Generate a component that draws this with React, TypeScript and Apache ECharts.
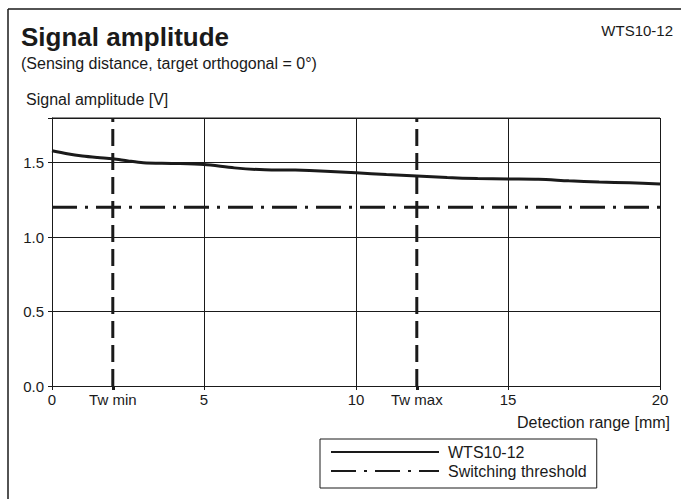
import React, { useEffect, useRef } from "react";
import * as echarts from "echarts";

const distance = [0, 0.5, 1, 1.5, 2, 2.5, 3, 4, 5, 6, 7, 8, 9, 10, 11, 12, 13, 14, 15, 16, 17, 18, 19, 20];
const amplitude = [1.58, 1.56, 1.545, 1.535, 1.527, 1.512, 1.5, 1.495, 1.487, 1.465, 1.452, 1.45, 1.443, 1.432, 1.42, 1.41, 1.4, 1.393, 1.39, 1.388, 1.378, 1.37, 1.365, 1.357];
const thresholdX = [0, 20];
const thresholdY = [1.2, 1.2];
const twMin = 2;
const twMax = 12;
const xTicks = [0, 5, 10, 15, 20];
const yTicks = [0, 0.5, 1.0, 1.5];
const yMax = 1.8;

const FONT = "Liberation Sans, Arial, sans-serif";
const INK = "#1a1a1a";

export default function App() {
  const ref = useRef<HTMLDivElement>(null);
  useEffect(() => {
    if (!ref.current) return;
    const chart = echarts.init(ref.current, undefined, { renderer: "svg" });
    chart.setOption({
      animation: false,
      backgroundColor: "#ffffff",
      textStyle: { fontFamily: FONT, color: INK },
      title: {
        text: "Signal amplitude",
        subtext: "(Sensing distance, target orthogonal = 0°)",
        left: 16,
        top: 19,
        itemGap: 5,
        textStyle: { fontFamily: FONT, fontSize: 26, fontWeight: "bold", color: INK },
        subtextStyle: { fontFamily: FONT, fontSize: 16, color: INK },
      },
      legend: {
        data: ["WTS10-12", "Switching threshold"],
        orient: "vertical",
        left: 320,
        top: 439,
        padding: [5, 10, 9, 10],
        itemGap: 3,
        itemWidth: 108,
        itemHeight: 14,
        borderColor: INK,
        borderWidth: 1,
        borderRadius: 0,
        selectedMode: false,
        itemStyle: { opacity: 0 },
        textStyle: { fontFamily: FONT, fontSize: 16, color: INK, padding: [0, 0, 0, 4] },
      },
      grid: { left: 52, right: 21, top: 118, bottom: 113, containLabel: false },
      xAxis: [
        {
          type: "value",
          min: 0,
          max: 20,
          interval: 5,
          axisLine: { show: true, lineStyle: { color: INK, width: 1 } },
          axisTick: { show: true, length: 4, inside: false, lineStyle: { color: INK } },
          axisLabel: {
            margin: 6,
            fontFamily: FONT,
            fontSize: 15,
            color: INK,
            customValues: xTicks,
            formatter: (v: number) => String(v),
          },
          splitLine: { show: true, lineStyle: { color: INK, width: 1 } },
        },
        {
          type: "value",
          min: 0,
          max: 20,
          position: "bottom",
          axisLine: { show: false },
          axisTick: { show: true, length: 4, customValues: [twMin, twMax], lineStyle: { color: INK, width: 3 } },
          axisLabel: {
            margin: 6,
            fontFamily: FONT,
            fontSize: 15,
            color: INK,
            customValues: [twMin, twMax],
            formatter: (v: number) => (v === twMin ? "Tw min" : v === twMax ? "Tw max" : ""),
          },
          splitLine: { show: false },
        },
      ],
      yAxis: {
        type: "value",
        min: 0,
        max: yMax,
        interval: 0.5,
        axisLine: { show: true, lineStyle: { color: INK, width: 1 } },
        axisTick: { show: true, length: 4, lineStyle: { color: INK } },
        axisLabel: {
          margin: 8,
          fontFamily: FONT,
          fontSize: 15,
          color: INK,
          customValues: yTicks,
          formatter: (v: number) => v.toFixed(1),
        },
        splitLine: { show: true, lineStyle: { color: INK, width: 1 } },
      },
      graphic: [
        { type: "line", shape: { x1: 8, y1: 9, x2: 681, y2: 9 }, style: { stroke: INK, lineWidth: 1.5 } },
        { type: "line", shape: { x1: 8, y1: 9, x2: 8, y2: 499 }, style: { stroke: INK, lineWidth: 1.5 } },
        { type: "line", shape: { x1: 52, y1: 118, x2: 660, y2: 118 }, style: { stroke: INK, lineWidth: 1 } },
        {
          type: "text",
          right: 8,
          top: 23,
          style: { text: "WTS10-12", fontFamily: FONT, fontSize: 15, fill: INK },
        },
        {
          type: "text",
          left: 26,
          top: 91,
          style: { text: "Signal amplitude [V]", fontFamily: FONT, fontSize: 16, fill: INK },
        },
        {
          type: "text",
          right: 11,
          top: 414,
          style: { text: "Detection range [mm]", fontFamily: FONT, fontSize: 16, fill: INK },
        },
      ],
      series: [
        {
          name: "WTS10-12",
          type: "line",
          xAxisIndex: 0,
          data: distance.map((d, i) => [d, amplitude[i]]),
          smooth: 0.3,
          symbol: "none",
          lineStyle: { color: INK, width: 3, type: "solid" },
          itemStyle: { color: INK },
          z: 5,
        },
        {
          name: "Switching threshold",
          type: "line",
          xAxisIndex: 0,
          data: thresholdX.map((d, i) => [d, thresholdY[i]]),
          symbol: "none",
          lineStyle: { color: INK, width: 3, type: [25, 8, 3, 8] },
          itemStyle: { color: INK },
          z: 4,
        },
        {
          name: "Tw min line",
          type: "line",
          xAxisIndex: 0,
          data: [[twMin, 0], [twMin, yMax]],
          symbol: "none",
          lineStyle: { color: INK, width: 3, type: [17, 7] },
          z: 3,
        },
        {
          name: "Tw max line",
          type: "line",
          xAxisIndex: 0,
          data: [[twMax, 0], [twMax, yMax]],
          symbol: "none",
          lineStyle: { color: INK, width: 3, type: [17, 7] },
          z: 3,
        },
      ],
    });
    return () => chart.dispose();
  }, []);
  return <div ref={ref} style={{ width: 681, height: 499, position: "absolute", left: 0, top: 0 }} />;
}
